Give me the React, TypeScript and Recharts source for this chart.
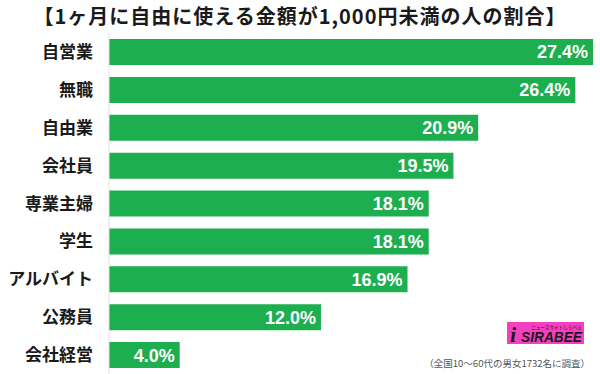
import React from "react";
import { BarChart, Bar, XAxis, YAxis, LabelList } from "recharts";

const categories = ["自営業", "無職", "自由業", "会社員", "専業主婦", "学生", "アルバイト", "公務員", "会社経営"];
const values = [27.4, 26.4, 20.9, 19.5, 18.1, 18.1, 16.9, 12.0, 4.0];
const title = "【1ヶ月に自由に使える金額が1,000円未満の人の割合】";
const footnote = "（全国10～60代の男女1732名に調査）";

const data = categories.map((c, i) => ({ name: c, value: values[i] }));

const JP = '"Noto Sans CJK JP", "Noto Sans", sans-serif';
const NUM = '"Liberation Sans", Arial, sans-serif';

const CatTick = (props: any) => {
  const { x, y, payload } = props;
  return (
    <text x={x} y={y} dy={6} textAnchor="end" fontFamily={JP} fontWeight={700} fontSize={17} fill="#1a1a1a">
      {payload.value}
    </text>
  );
};

export default function App() {
  return (
    <div style={{ position: "absolute", left: 0, top: 0, width: 600, height: 374, background: "#fff", overflow: "hidden" }}>
      <div
        style={{
          position: "absolute",
          left: 0,
          top: 4,
          width: 600,
          textAlign: "center",
          fontFamily: JP,
          fontWeight: 700,
          fontSize: 20,
          lineHeight: "24px",
          color: "#1a1a1a",
          letterSpacing: 1,
          whiteSpace: "nowrap",
        }}
      >
        {title}
      </div>
      <BarChart
        width={600}
        height={374}
        data={data}
        layout="vertical"
        margin={{ top: 33, right: 7, bottom: 0, left: 0 }}
        barSize={26}
      >
        <XAxis type="number" hide domain={[0, 27.4]} />
        <YAxis
          type="category"
          dataKey="name"
          width={109}
          axisLine={{ stroke: "#e2e2e2" }}
          tickLine={false}
          tickMargin={10}
          tick={<CatTick />}
          interval={0}
        />
        <Bar dataKey="value" fill="#1dae4f" isAnimationActive={false}>
          <LabelList
            dataKey="value"
            position="insideRight"
            offset={5}
            fill="#ffffff"
            fontFamily={NUM}
            fontWeight={700}
            fontSize={18}
            formatter={(v: any) => Number(v).toFixed(1) + "%"}
          />
        </Bar>
      </BarChart>
      <svg style={{ position: "absolute", left: 0, top: 0 }} width={600} height={374}>
        <rect x={507} y={322} width={77} height={22} fill="#f43fc0" />
        <text x={510} y={342} fontFamily="Georgia, serif" fontWeight={700} fontStyle="italic" fontSize={22} fill="#1a1a1a">
          i
        </text>
        <text x={531} y={328.5} fontFamily={JP} fontSize={5} fill="#1a1a1a" textLength={51} lengthAdjust="spacingAndGlyphs">
          ニュースサイトしらべぇ
        </text>
        <text x={521} y={341.5} fontFamily={NUM} fontWeight={700} fontStyle="italic" fontSize={14} fill="#1a1a1a" textLength={61} lengthAdjust="spacingAndGlyphs">
          SIRABEE
        </text>
      </svg>
      <div
        style={{
          position: "absolute",
          right: 10,
          top: 356,
          fontFamily: JP,
          fontSize: 9.5,
          lineHeight: "14px",
          color: "#555",
          whiteSpace: "nowrap",
        }}
      >
        {footnote}
      </div>
    </div>
  );
}
